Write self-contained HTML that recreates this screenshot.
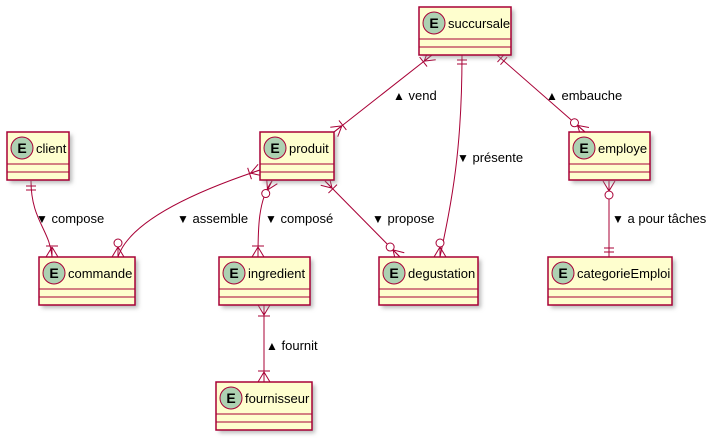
<!DOCTYPE html>
<html><head><meta charset="utf-8">
<style>
html,body{margin:0;padding:0;background:#fff;}
svg{display:block;font-family:"Liberation Sans",sans-serif;}
</style></head>
<body>
<svg id="s" width="716" height="443" viewBox="0 0 716 443" xmlns="http://www.w3.org/2000/svg">
<defs><filter id="sh" x="-20%" y="-20%" width="150%" height="150%"><feGaussianBlur stdDeviation="2"/></filter></defs>
</svg>
<script>
var s=document.getElementById('s'),NS='http://www.w3.org/2000/svg',C='#A80036';
function el(t,a,txt){var e=document.createElementNS(NS,t);for(var k in a)e.setAttribute(k,a[k]);if(txt!=null)e.textContent=txt;s.appendChild(e);return e;}
var boxes=[["succursale",419,7,92],["client",7,132,62],["produit",260,132,74],["employe",569,132,81],
["commande",39,257,96],["ingredient",219,257,91],["degustation",379,257,99],["categorieEmploi",548,257,124],["fournisseur",216,382,96]];
function line(p){el('path',{d:p,fill:'none',stroke:C,'stroke-width':1});}
function mark(px,py,dx,dy,type){var L=Math.hypot(dx,dy);dx/=L;dy/=L;var nx=-dy,ny=dx;
 function seg(a,b,c,d){line('M'+a+' '+b+'L'+c+' '+d);}
 if(type.indexOf('many')>=0){var tx=px+dx*10,ty=py+dy*10;seg(tx,ty,px+nx*6,py+ny*6);seg(tx,ty,px,py);seg(tx,ty,px-nx*6,py-ny*6);}
 if(type=='onemany'){var bx=px+dx*11,by=py+dy*11;seg(bx+nx*6,by+ny*6,bx-nx*6,by-ny*6);}
 if(type=='zeromany'){el('circle',{cx:px+dx*14,cy:py+dy*14,r:4,fill:'#fff',stroke:C});}
 if(type=='oneone'){[5,9].forEach(function(k){var bx=px+dx*k,by=py+dy*k;seg(bx+nx*5,by+ny*5,bx-nx*5,by-ny*5);});}
}
function edge(d,a,ad,ta,b,bd,tb){line(d);mark(a[0],a[1],ad[0],ad[1],ta);mark(b[0],b[1],bd[0],bd[1],tb);}
edge('M432 55L334 132',[432,55],[-98,77],'onemany',[334,132],[98,-77],'onemany');
edge('M462 55C462 150 452 200 440 257',[462,55],[0,1],'oneone',[440,257],[0,-1],'zeromany');
edge('M497 55L585 132',[497,55],[88,77],'oneone',[585,132],[-88,-77],'zeromany');
edge('M31 181C31 220 50 230 52 257',[31,181],[0,1],'oneone',[52,257],[0,-1],'onemany');
edge('M260 170C200 190 130 220 118 257',[260,170],[-3,1],'onemany',[118,257],[0,-1],'zeromany');
edge('M272 181C258 200 258 230 258 257',[272,181],[-0.5,1],'zeromany',[258,257],[0,-1],'onemany');
edge('M325 181L400 257',[325,181],[75,76],'onemany',[400,257],[-75,-76],'zeromany');
edge('M609 181L609 257',[609,181],[0,1],'zeromany',[609,257],[0,-1],'oneone');
edge('M264 305L264 382',[264,305],[0,1],'onemany',[264,382],[0,-1],'onemany');
boxes.forEach(function(b){var n=b[0],x=b[1],y=b[2],w=b[3],h=48;
 el('rect',{x:x+3,y:y+3,width:w,height:h,fill:'#888','fill-opacity':0.6,filter:'url(#sh)'});
 el('rect',{x:x,y:y,width:w,height:h,fill:'#FEFECE',stroke:C,'stroke-width':1.5});
 line('M'+x+' '+(y+32)+'H'+(x+w));line('M'+x+' '+(y+40)+'H'+(x+w));
 el('circle',{cx:x+15,cy:y+16,r:11,fill:'#ADD1B2',stroke:C,'stroke-width':1});
 el('text',{x:x+15,y:y+21,'text-anchor':'middle','font-size':14,'font-weight':'bold'},'E');
 el('text',{x:x+29,y:y+21,'font-size':13},n);
});
var labs=[[393,100,"▲ vend"],[457,162,"▼ présente"],[546,100,"▲ embauche"],[36,223,"▼ compose"],[177,223,"▼ assemble"],[265,223,"▼ composé"],[372,223,"▼ propose"],[612,223,"▼ a pour tâches"],[266,350,"▲ fournit"]];
labs.forEach(function(l){var t=el('text',{x:l[0],y:l[1],'font-size':13});
 var a=document.createElementNS(NS,'tspan');a.setAttribute('font-size',12);a.textContent=l[2].charAt(0);t.appendChild(a);
 t.appendChild(document.createTextNode(l[2].slice(1)));});
</script>
</body></html>
